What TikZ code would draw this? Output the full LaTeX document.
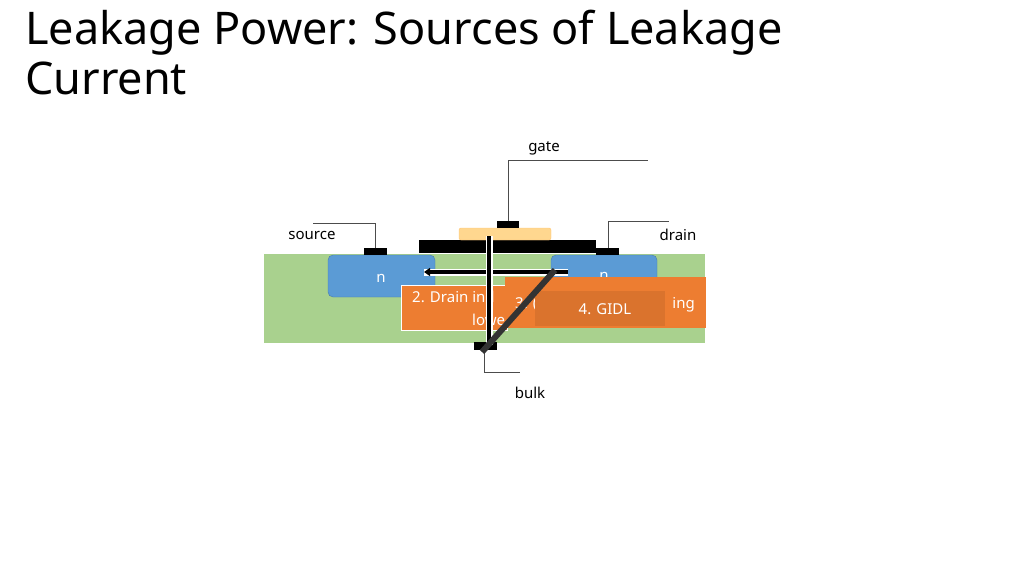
\documentclass[tikz,border=0pt]{standalone}
\usepackage{fontspec}
\setmainfont{Noto Sans}
\usetikzlibrary{arrows.meta}
\definecolor{subst}{HTML}{A9D18E}
\definecolor{nreg}{HTML}{5B9BD5}
\definecolor{poly}{HTML}{FFD78F}
\definecolor{leak}{HTML}{ED7D31}
\tikzset{
  region/.style={draw=nreg!80!black,fill=nreg,rounded corners=5pt},
  contact/.style={fill=black},
  wire/.style={draw=black!70,line width=0.5pt},
  lbl/.style={font=\fontsize{15}{18}\selectfont,text=black},
  box/.style={fill=leak,draw=white,line width=1pt},
  boxtext/.style={text=white,font=\fontsize{15}{18}\selectfont,inner sep=0pt},
}
\begin{document}
\begin{tikzpicture}[x=1pt,y=-1pt]
\useasboundingbox (0,0) rectangle (1024,575);
% title
\node[anchor=base west,inner sep=0pt,font=\fontsize{45}{50}\selectfont] (title1) at (25,45) {Leakage Power: Sources of Leakage};
\node[anchor=base west,inner sep=0pt,font=\fontsize{45}{50}\selectfont] (title2) at (25,95) {Current};
% substrate and wells
\fill[subst] (264,254) rectangle (705,343);
\draw[region] (328,255) rectangle (435,297);
\draw[region] (551,255) rectangle (657,297);
\node[lbl,text=white] (nsrc) at (381,278) {n};
\node[lbl,text=white] (ndrn) at (604,276) {n};
% gate stack
\fill[black] (419,240) rectangle (596,253);
\fill[poly,draw=poly!80!orange,rounded corners=2pt] (459,228) rectangle (551,240);
% contacts
\fill[contact] (497,221) rectangle (519,228);
\fill[contact] (364,248) rectangle (387,255);
\fill[contact] (596,248) rectangle (619,255);
\fill[contact] (474,342) rectangle (497,350);
\coordinate (cg) at (508,221);
\coordinate (cs) at (375,248);
\coordinate (cd) at (608,248);
\coordinate (cb) at (484,350);
% wires
\draw[wire] (cg) |- (648,160);
\draw[wire] (cs) |- (313,223);
\draw[wire] (cd) |- (669,221);
\draw[wire] (cb) |- (520,372);
\node[lbl] (gate) at (544,148) {gate};
\node[lbl] (source) at (312,235) {source};
\node[lbl] (drain) at (678,235) {drain};
\node[lbl] (bulk) at (530,393) {bulk};
% leakage labels
\draw[box] (401,285) rectangle (507,330);
\node[boxtext,anchor=base west] (dibl) at (412,302) {2. Drain ind};
\node[boxtext,anchor=base west] (dibl2) at (472,325) {lowe};
\fill[leak] (505,277) rectangle (706,328);
\node[boxtext,anchor=base west] (tunnel) at (515,308) {3. (};
\node[boxtext,anchor=base east] (tunnel2) at (695,308) {ing};
\fill[leak!92!black] (535,291) rectangle (665,326);
\node[boxtext] (gidl) at (605,309) {4. GIDL};
% current paths
\coordinate (h0) at (568,272);
\coordinate (h1) at (424,272);
\coordinate (v0) at (489,236);
\coordinate (v1) at (489,345);
\coordinate (d0) at (555,270);
\coordinate (d1) at (482,352);
\draw[white,line width=7pt] (h0) -- (h1);
\draw[black,line width=4pt,-{Triangle[length=6pt,width=8pt]}] (h0) -- (h1);
\draw[white,line width=7pt] (v0) -- (v1);
\draw[black,line width=4pt] (v0) -- (v1);
\draw[black!80,line width=6pt] (d0) -- (d1);
\end{tikzpicture}
\end{document}
